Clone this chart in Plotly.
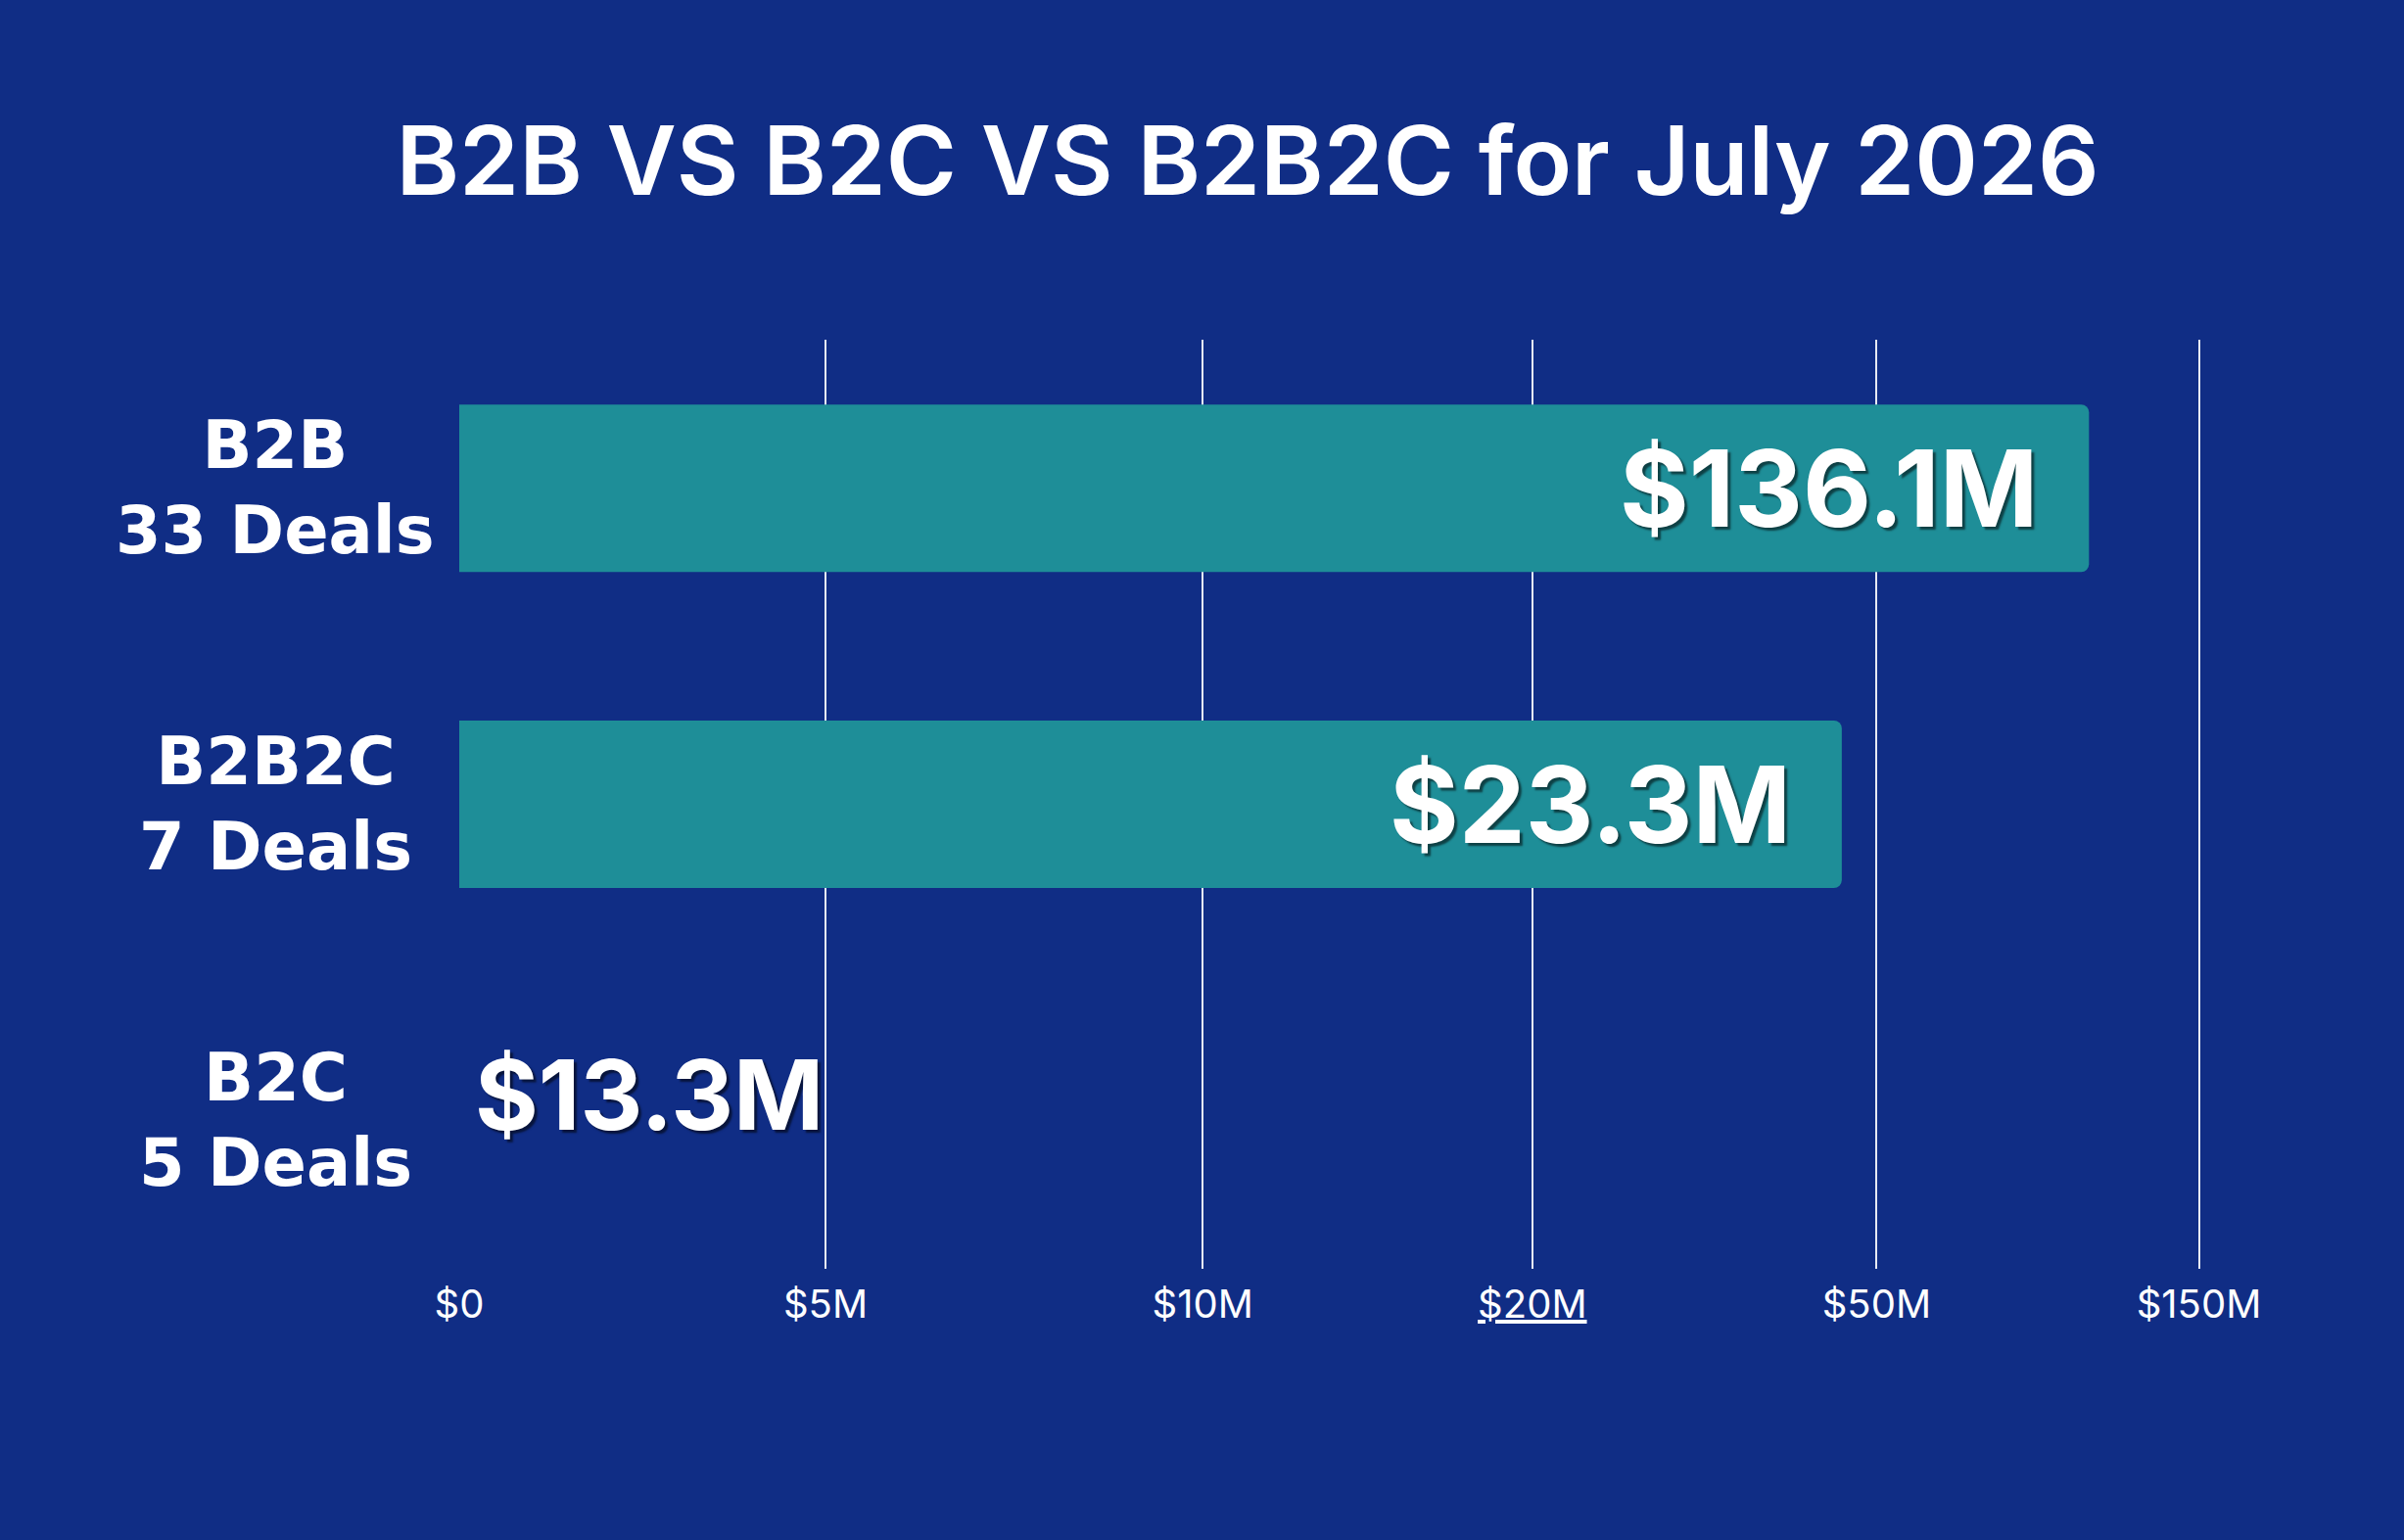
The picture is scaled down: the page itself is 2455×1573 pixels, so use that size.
import plotly.graph_objects as go

# segments, top to bottom
segments = ['B2B', 'B2B2C', 'B2C']
deals = [33, 7, 5]
amounts = ['$136.1M', '$23.3M', '$13.3M']

# bar lengths as drawn on the (uneven) axis
bar_len = [4.45, 3.775, 0]

# axis ticks: where each label sits on that axis
tick_at = [0, 1.0, 2.03, 2.93, 3.87, 4.75]
tick_text = ['$0', '$5M', '$10M', '<u>$20M</u>', '$50M', '$150M']

BG = '#102D85'
TEAL = '#1E8E98'

fig = go.Figure(go.Bar(
    x=bar_len,
    y=segments,
    orientation='h',
    width=0.53,
    marker=dict(color=TEAL, line=dict(width=0), cornerradius=8),
    hoverinfo='skip',
))

shadow = '3px 3px 2px rgba(0,0,0,0.55)'

for seg, n, amt, ln in zip(segments, deals, amounts, bar_len):
    fig.add_annotation(x=0, y=seg, xref='paper', yref='y',
                       xanchor='center', yanchor='middle', xshift=-188,
                       align='center', showarrow=False,
                       text=f'{seg}<br>{n} Deals',
                       font=dict(family='DejaVu Sans', size=67, color='white', weight=700))
    if ln > 0:
        fig.add_annotation(x=ln, y=seg, xanchor='right', yanchor='middle',
                           xshift=-50, showarrow=False, text=amt,
                           font=dict(family='Inter', size=108, color='white',
                                     weight=700, shadow=shadow))
    else:
        fig.add_annotation(x=0, y=seg, xanchor='left', yanchor='middle',
                           xshift=14, yshift=26, showarrow=False, text=amt,
                           font=dict(family='Inter', size=99, color='white',
                                     weight=700, shadow=shadow))

fig.update_layout(
    width=2455, height=1573,
    paper_bgcolor=BG, plot_bgcolor=BG,
    margin=dict(l=469, r=116, t=347, b=277),
    showlegend=False,
    title=dict(text='B2B VS B2C VS B2B2C for July 2026',
               x=0.519, xanchor='center', y=0.895, yanchor='middle',
               font=dict(family='Inter', size=98, color='white', weight=600)),
    xaxis=dict(range=[0, 5.0], tickvals=tick_at, ticktext=tick_text,
               showgrid=True, gridcolor='rgba(255,255,255,0.9)', gridwidth=1.5,
               zeroline=False, showline=False, ticks='',
               ticklabelstandoff=9,
               tickfont=dict(family='Inter', size=40, color='white')),
    yaxis=dict(range=[2.47, -0.47], showticklabels=False, showgrid=False,
               zeroline=False, showline=False, ticks=''),
)

fig.write_html('out.html', config={'displayModeBar': False},
               post_script="document.body.style.margin='0';")
